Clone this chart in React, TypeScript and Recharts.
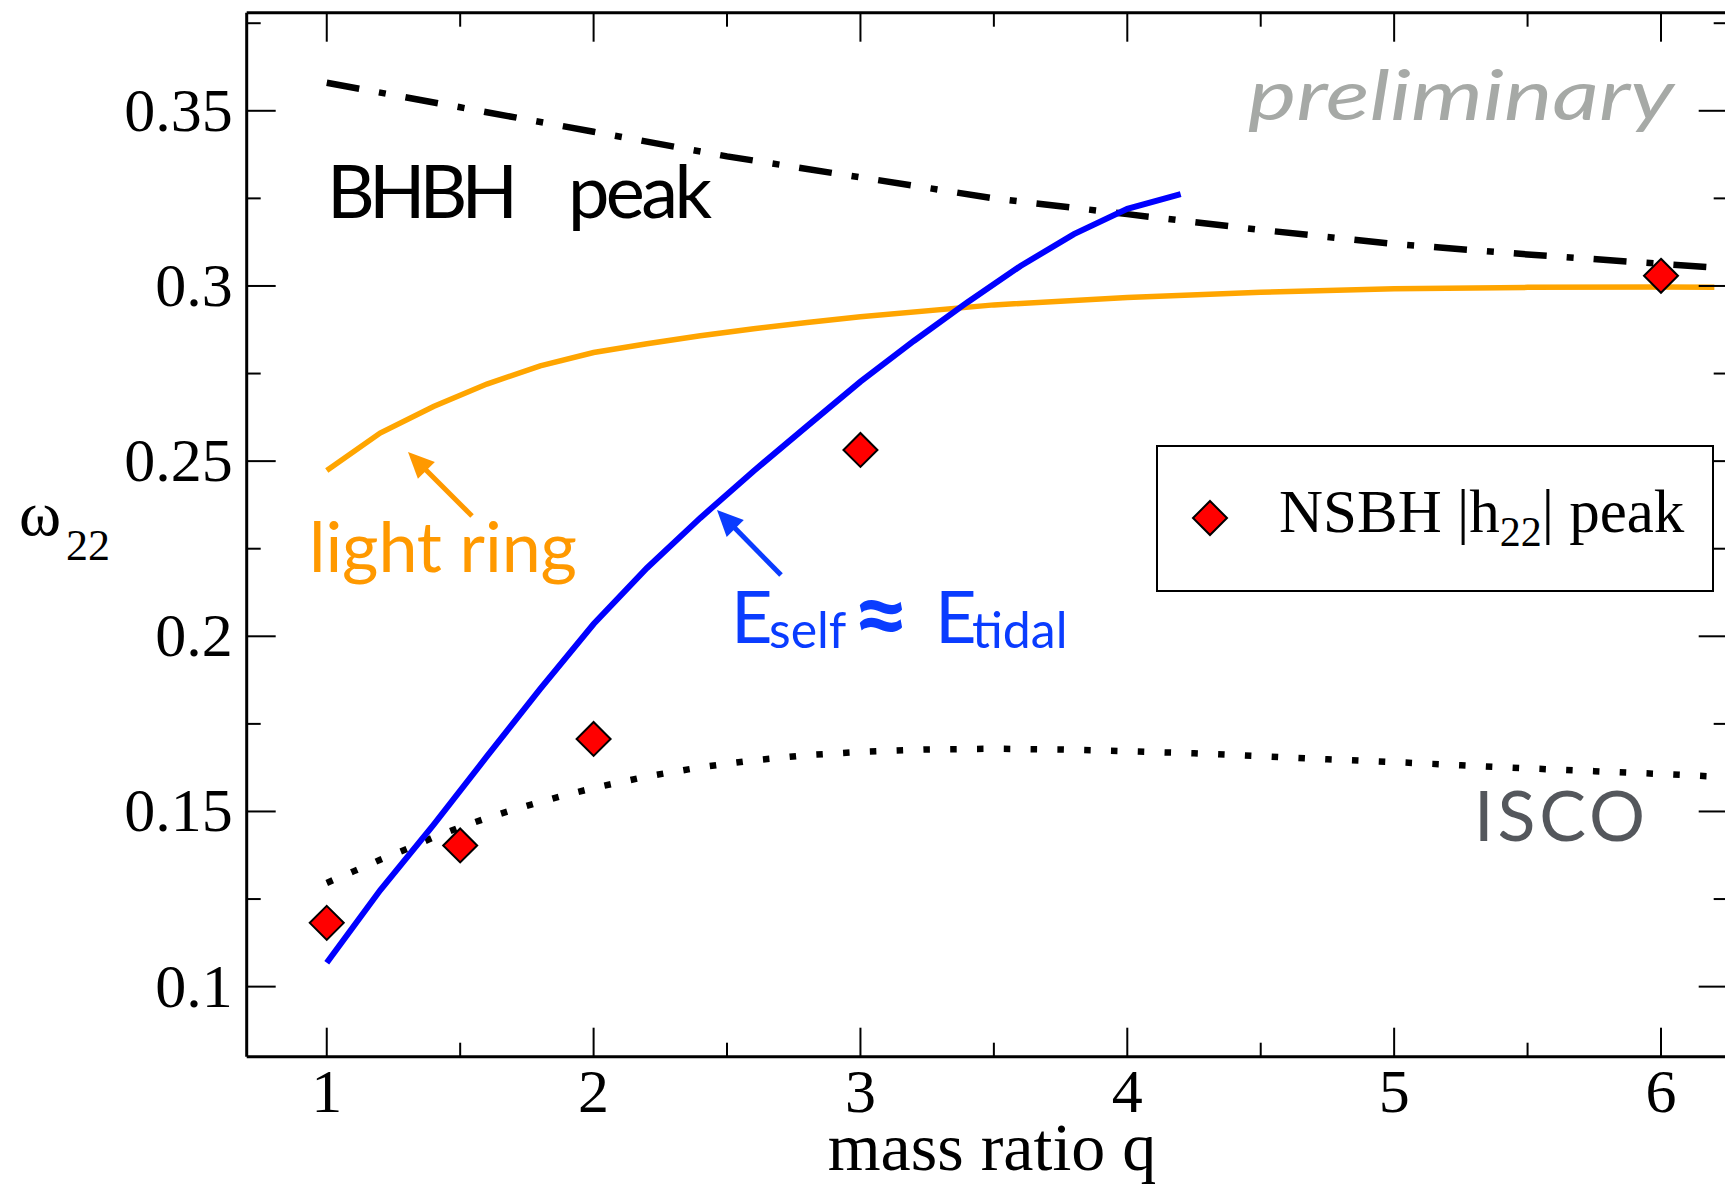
import React from "react";
import { ComposedChart, Line, Scatter, XAxis, YAxis } from "recharts";

// axis ticks
const X_MAJOR = [1, 2, 3, 4, 5, 6];
const X_MINOR = [1.5, 2.5, 3.5, 4.5, 5.5];
const Y_MAJOR = [0.1, 0.15, 0.2, 0.25, 0.3, 0.35];
const Y_MINOR = [0.125, 0.175, 0.225, 0.275, 0.325, 0.375];
const Y_LABELS = ["0.1", "0.15", "0.2", "0.25", "0.3", "0.35"];

// BHBH peak (dash-dot)
const BHBH_Q = [1, 1.5, 2, 2.5, 3, 3.5, 4, 4.5, 5, 5.5, 6, 6.25];
const BHBH_W = [0.358, 0.351, 0.344, 0.337, 0.331, 0.325, 0.3205, 0.316, 0.312, 0.309, 0.3063, 0.305];

// light ring (orange)
const RING_Q = [1, 1.2, 1.4, 1.6, 1.8, 2, 2.2, 2.4, 2.6, 2.8, 3, 3.5, 4, 4.5, 5, 5.5, 6, 6.2];
const RING_W = [0.2473, 0.258, 0.2656, 0.272, 0.2772, 0.281, 0.2835, 0.2858, 0.2878, 0.2896, 0.2912, 0.2946, 0.2967, 0.2982, 0.2992, 0.2996, 0.2997, 0.2996];

// E_self ~ E_tidal (blue)
const TIDAL_Q = [1, 1.2, 1.4, 1.6, 1.8, 2, 2.2, 2.4, 2.6, 2.8, 3, 3.2, 3.4, 3.6, 3.8, 4, 4.2];
const TIDAL_W = [0.1068, 0.1275, 0.1462, 0.1657, 0.185, 0.2035, 0.2195, 0.2338, 0.2472, 0.26, 0.2727, 0.2843, 0.2953, 0.3057, 0.3148, 0.322, 0.3262];

// ISCO (dotted)
const ISCO_Q = [1, 1.1, 1.2, 1.3, 1.4, 1.5, 1.6, 1.7, 1.8, 1.9, 2, 2.2, 2.4, 2.6, 2.8, 3, 3.25, 3.5, 3.75, 4, 4.25, 4.5, 4.75, 5, 5.25, 5.5, 5.75, 6, 6.25];
const ISCO_W = [0.1296, 0.1329, 0.1362, 0.1393, 0.1426, 0.1455, 0.1481, 0.1505, 0.1527, 0.1548, 0.1567, 0.16, 0.1626, 0.1646, 0.1661, 0.167, 0.1677, 0.1679, 0.1677, 0.1672, 0.1666, 0.1658, 0.1649, 0.1641, 0.1632, 0.1623, 0.1615, 0.1607, 0.1598];

// NSBH |h22| peak (diamonds)
const NSBH_Q = [1, 1.5, 2, 3, 6];
const NSBH_W = [0.1182, 0.1403, 0.1707, 0.2532, 0.3029];

const zip = (qs: number[], ws: number[]) => qs.map((q, i) => ({ q, w: ws[i] }));

const bhbh = zip(BHBH_Q, BHBH_W);
const ring = zip(RING_Q, RING_W);
const tidal = zip(TIDAL_Q, TIDAL_W);
const isco = zip(ISCO_Q, ISCO_W);
const nsbh = zip(NSBH_Q, NSBH_W);

const X_DOMAIN: [number, number] = [0.7, 6.25];
const Y_DOMAIN: [number, number] = [0.08, 0.378];

const SERIF = "'Liberation Serif', 'Times New Roman', serif";
const SANS = "Lato, 'Open Sans', sans-serif";
const MAJOR = 29;
const MINOR = 14;

const BottomTick = (props: any) => {
  const { x, y, payload } = props;
  const major = X_MAJOR.includes(payload.value);
  return (
    <g>
      <line x1={x} x2={x} y1={y} y2={y - (major ? MAJOR : MINOR)} stroke="#000" strokeWidth={2} />
      {major && (
        <text x={x} y={y + 55} textAnchor="middle" fontSize={62} fontFamily={SERIF} fill="#000">
          {payload.value}
        </text>
      )}
    </g>
  );
};

const TopTick = (props: any) => {
  const { x, y, payload } = props;
  const major = X_MAJOR.includes(payload.value);
  return <line x1={x} x2={x} y1={y} y2={y + (major ? MAJOR : MINOR)} stroke="#000" strokeWidth={2} />;
};

const LeftTick = (props: any) => {
  const { x, y, payload } = props;
  const idx = Y_MAJOR.indexOf(payload.value);
  const major = idx >= 0;
  return (
    <g>
      <line x1={x} x2={x + (major ? MAJOR : MINOR)} y1={y} y2={y} stroke="#000" strokeWidth={2} />
      {major && (
        <text x={x - 14} y={y + 20} textAnchor="end" fontSize={62} fontFamily={SERIF} fill="#000">
          {Y_LABELS[idx]}
        </text>
      )}
    </g>
  );
};

const RightTick = (props: any) => {
  const { x, y, payload } = props;
  const major = Y_MAJOR.includes(payload.value);
  return <line x1={x} x2={x - (major ? MAJOR : MINOR)} y1={y} y2={y} stroke="#000" strokeWidth={2} />;
};

const Diamond = (props: any) => {
  const { cx, cy } = props;
  const r = 17;
  return (
    <polygon
      points={`${cx},${cy - r} ${cx + r},${cy} ${cx},${cy + r} ${cx - r},${cy}`}
      fill="#FF0000"
      stroke="#000"
      strokeWidth={2}
    />
  );
};

const Arrow = ({ x1, y1, x2, y2, color }: { x1: number; y1: number; x2: number; y2: number; color: string }) => {
  const len = Math.hypot(x2 - x1, y2 - y1);
  const ux = (x2 - x1) / len;
  const uy = (y2 - y1) / len;
  const hl = 26;
  const hw = 12;
  const bx = x2 - ux * hl;
  const by = y2 - uy * hl;
  return (
    <g>
      <line x1={x1} y1={y1} x2={bx + ux * 2} y2={by + uy * 2} stroke={color} strokeWidth={5} />
      <polygon
        points={`${x2},${y2} ${bx - uy * hw},${by + ux * hw} ${bx + uy * hw},${by - ux * hw}`}
        fill={color}
      />
    </g>
  );
};

const Overlay = () => (
  <svg
    width={1725}
    height={1189}
    style={{ position: "absolute", left: 0, top: 0, pointerEvents: "none" }}
  >
    {/* axis titles */}
    <text x={992} y={1170} textAnchor="middle" fontSize={68} fontFamily={SERIF} fill="#000">
      mass ratio q
    </text>
    <text x={19} y={535} fontSize={64} fontFamily={SERIF} fill="#000">
      ω
      <tspan x={66} y={560} fontSize={44}>
        22
      </tspan>
    </text>

    {/* annotations */}
    <text x={327} y={218} fontSize={74} fontFamily={SANS} fill="#000" textLength={191}>
      BHBH
    </text>
    <text x={568} y={218} fontSize={74} fontFamily={SANS} fill="#000" textLength={144}>
      peak
    </text>
    <text
      x={1248}
      y={120}
      fontSize={70}
      fontFamily={SANS}
      fontStyle="italic"
      fill="#A6A9A6"
      textLength={426}
      lengthAdjust="spacingAndGlyphs"
    >
      preliminary
    </text>
    <text x={309} y={572} fontSize={70} fontFamily={SANS} fill="#FF9900" textLength={268}>
      light ring
    </text>
    <Arrow x1={472} y1={516} x2={408} y2={452} color="#FF9900" />

    <text fontFamily={SANS} fill="#0A3CFF" fontSize={72}>
      <tspan x={731} y={643}>E</tspan>
      <tspan x={769} y={648} fontSize={50}>self</tspan>
      <tspan x={852} y={650} fontSize={100} fontWeight={700}>≈</tspan>
      <tspan x={935} y={643}>E</tspan>
      <tspan x={972} y={648} fontSize={50}>tidal</tspan>
    </text>
    <Arrow x1={781} y1={575} x2={717} y2={510} color="#0A3CFF" />

    <text x={1474} y={841} fontSize={70} fontFamily={SANS} fill="#54575C" textLength={171}>
      ISCO
    </text>

    {/* legend */}
    <rect x={1157} y={446} width={556} height={145} fill="#fff" stroke="#000" strokeWidth={2} />
    <Diamond cx={1210} cy={518} />
    <text x={1279} y={532} fontSize={61} fontFamily={SERIF} fill="#000">
      NSBH |h
      <tspan fontSize={42} dy={14}>
        22
      </tspan>
      <tspan dy={-14}>| peak</tspan>
    </text>
  </svg>
);

export default function App() {
  const xTicks = [...X_MAJOR, ...X_MINOR];
  const yTicks = [...Y_MAJOR, ...Y_MINOR];
  return (
    <div
      style={{
        position: "absolute",
        left: 0,
        top: 0,
        width: 1725,
        height: 1189,
        overflow: "hidden",
        background: "#fff",
      }}
    >
      <ComposedChart
        width={1730}
        height={1189}
        margin={{ top: 11.7, right: 1.3, bottom: 72.3, left: 146.7 }}
      >
        <XAxis
          dataKey="q"
          type="number"
          domain={X_DOMAIN}
          allowDataOverflow
          ticks={xTicks}
          interval={0}
          height={60}
          tickSize={0}
          tickMargin={0}
          tickLine={false}
          axisLine={{ stroke: "#000", strokeWidth: 3 }}
          tick={<BottomTick />}
        />
        <XAxis
          xAxisId="top"
          orientation="top"
          dataKey="q"
          type="number"
          domain={X_DOMAIN}
          allowDataOverflow
          ticks={xTicks}
          interval={0}
          height={1}
          tickSize={0}
          tickMargin={0}
          tickLine={false}
          axisLine={{ stroke: "#000", strokeWidth: 3 }}
          tick={<TopTick />}
        />
        <YAxis
          dataKey="w"
          type="number"
          domain={Y_DOMAIN}
          allowDataOverflow
          ticks={yTicks}
          interval={0}
          width={100}
          tickSize={0}
          tickMargin={0}
          tickLine={false}
          axisLine={{ stroke: "#000", strokeWidth: 3 }}
          tick={<LeftTick />}
        />
        <YAxis
          yAxisId="right"
          orientation="right"
          dataKey="w"
          type="number"
          domain={Y_DOMAIN}
          allowDataOverflow
          ticks={yTicks}
          interval={0}
          width={1}
          tickSize={0}
          tickMargin={0}
          tickLine={false}
          axisLine={{ stroke: "#000", strokeWidth: 3 }}
          tick={<RightTick />}
        />
        {/* invisible series that binds the top / right frame axes */}
        <Line
          xAxisId="top"
          yAxisId="right"
          data={bhbh}
          dataKey="w"
          stroke="none"
          dot={false}
          activeDot={false}
          legendType="none"
          isAnimationActive={false}
        />
        <Line
          data={isco}
          dataKey="w"
          type="linear"
          stroke="#000"
          strokeWidth={6.5}
          strokeDasharray="6.5 20.3"
          dot={false}
          activeDot={false}
          isAnimationActive={false}
        />
        <Line
          data={bhbh}
          dataKey="w"
          type="linear"
          stroke="#000"
          strokeWidth={6.5}
          strokeDasharray="33 20 7 20"
          dot={false}
          activeDot={false}
          isAnimationActive={false}
        />
        <Line
          data={ring}
          dataKey="w"
          type="linear"
          stroke="#FFA500"
          strokeWidth={5.5}
          dot={false}
          activeDot={false}
          isAnimationActive={false}
        />
        <Line
          data={tidal}
          dataKey="w"
          type="linear"
          stroke="#0000FF"
          strokeWidth={6}
          dot={false}
          activeDot={false}
          isAnimationActive={false}
        />
        <Scatter data={nsbh} dataKey="w" shape={<Diamond />} isAnimationActive={false} />
      </ComposedChart>
      <Overlay />
    </div>
  );
}
